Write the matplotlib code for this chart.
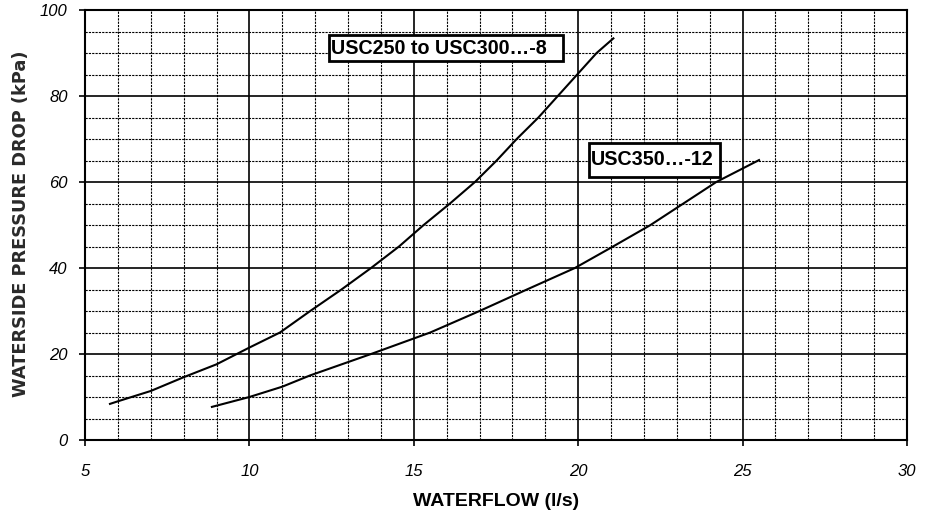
import numpy as np
import matplotlib.pyplot as plt
from matplotlib.patches import Rectangle
from matplotlib.ticker import MultipleLocator

plt.rcParams['font.family'] = ['Liberation Sans', 'DejaVu Sans']

# curve for USC250 to USC300...-8
flow_8 = [5.76, 6.0, 7.0, 8.0, 9.0, 10.0, 10.93, 11.85, 12.8, 13.7, 14.55, 15.3,
          16.1, 16.86, 17.52, 18.13, 18.79, 19.38, 19.97, 20.56, 21.07]
drop_8 = [8.4, 9.0, 11.4, 14.6, 17.6, 21.5, 25, 30, 35, 40, 45, 50,
          55, 60, 65, 70, 75, 80, 85, 90, 93.4]

# curve for USC350...-12
flow_12 = [8.86, 10.0, 11.0, 11.84, 13.7, 15.5, 17.0, 18.44, 19.9,
           21.06, 22.2, 23.2, 24.2, 25.5]
drop_12 = [7.7, 10.0, 12.4, 15, 20, 25, 30, 35, 40, 45, 50, 55, 60, 65.1]

labels = ['USC250 to USC300\u2026-8', 'USC350\u2026-12']

fig = plt.figure(figsize=(9.26, 5.2), dpi=100)
ax = fig.add_axes([85/926, 80/520, 822/926, 430/520])

ax.plot(flow_8, drop_8, color='black', lw=1.5)
ax.plot(flow_12, drop_12, color='black', lw=1.5)

ax.set_xlim(5, 30)
ax.set_ylim(0, 100)
ax.xaxis.set_major_locator(MultipleLocator(5))
ax.xaxis.set_minor_locator(MultipleLocator(1))
ax.yaxis.set_major_locator(MultipleLocator(20))
ax.yaxis.set_minor_locator(MultipleLocator(5))
ax.grid(which='major', color='black', lw=1.2)
ax.grid(which='minor', color='black', lw=0.8, ls=(0, (2, 1)))
ax.set_axisbelow(True)

ax.tick_params(which='major', direction='out', length=4.5, width=1.2)
ax.tick_params(axis='x', which='major', pad=13, labelsize=12)
ax.tick_params(axis='y', which='major', pad=8, labelsize=12)
ax.tick_params(which='minor', length=0)
for lab in ax.get_xticklabels() + ax.get_yticklabels():
    lab.set_fontstyle('italic')
for s in ax.spines.values():
    s.set_linewidth(1.5)

ax.set_xlabel('WATERFLOW (l/s)', fontsize=14, fontweight='bold', labelpad=10)
fig.text(21/926, 1 - 224/520, 'WATERSIDE PRESSURE DROP (kPa)', rotation=90,
         fontsize=12.8, fontweight='bold', family='DejaVu Sans', color='#2a2a2a',
         ha='center', va='center')

# label boxes: text sits flush on the left edge, extra room on the right
for txt, x0, x1, y0, y1 in [(labels[0], 12.42, 19.54, 88.1, 94.2),
                            (labels[1], 20.33, 24.31, 61.2, 69.1)]:
    ax.add_patch(Rectangle((x0, y0), x1 - x0, y1 - y0, fc='white', ec='black',
                           lw=2, zorder=3))
    ax.text(x0 + 0.05, (y0 + y1) / 2, txt, fontsize=14.2, fontweight='bold',
            va='center', ha='left', zorder=4)

fig.savefig('out.png', dpi=100)
